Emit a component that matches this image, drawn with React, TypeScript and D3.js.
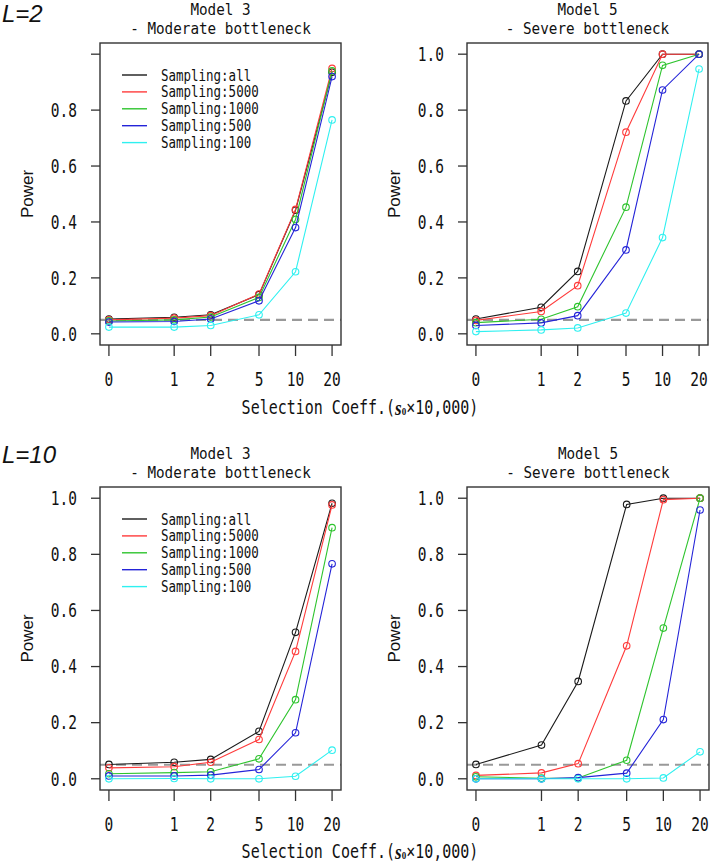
import React from "react";
import * as d3 from "d3";

// selection coefficients (x10,000) on the x axis
const sCoeff = [0, 1, 2, 5, 10, 20];
const yTicks = [0, 0.2, 0.4, 0.6, 0.8, 1.0];
const samplingLabels = [
  "Sampling:all",
  "Sampling:5000",
  "Sampling:1000",
  "Sampling:500",
  "Sampling:100",
];
const samplingColors = ["#1a1a1a", "#ff3b3b", "#2ec42e", "#2424d8", "#2ff0f0"];

// rows follow samplingLabels, columns follow sCoeff
const model3L2 = [
  [0.053, 0.059, 0.068, 0.14, 0.442, 0.935],
  [0.05, 0.056, 0.065, 0.142, 0.445, 0.949],
  [0.046, 0.05, 0.06, 0.13, 0.409, 0.94],
  [0.042, 0.044, 0.053, 0.118, 0.38, 0.92],
  [0.024, 0.024, 0.03, 0.068, 0.222, 0.765],
];
const model5L2 = [
  [0.053, 0.095, 0.223, 0.833, 1.0, 1.0],
  [0.048, 0.08, 0.172, 0.721, 1.0, 1.0],
  [0.04, 0.052, 0.097, 0.453, 0.96, 1.0],
  [0.03, 0.039, 0.065, 0.3, 0.872, 1.0],
  [0.008, 0.014, 0.021, 0.074, 0.344, 0.947],
];
const model3L10 = [
  [0.051, 0.059, 0.069, 0.169, 0.522, 0.982],
  [0.039, 0.043, 0.059, 0.14, 0.454, 0.976],
  [0.018, 0.022, 0.025, 0.071, 0.282, 0.895],
  [0.01, 0.01, 0.013, 0.033, 0.164, 0.766],
  [0.0, 0.001, 0.0, 0.0, 0.009, 0.102],
];
const model5L10 = [
  [0.051, 0.12, 0.347, 0.978, 1.0, 1.0],
  [0.012, 0.021, 0.054, 0.474, 0.995, 1.0],
  [0.007, 0.002, 0.003, 0.066, 0.537, 1.0],
  [0.0, 0.0, 0.004, 0.02, 0.211, 0.958],
  [0.0, 0.0, 0.0, 0.0, 0.003, 0.096],
];
const alphaLevel = 0.05;

const MONO = "'DejaVu Sans Mono', 'Liberation Mono', monospace";
const SANS = "'Liberation Sans', Arial, sans-serif";

// where 0 sits on the log axis
const ZERO_POS = 0.29;

type Box = { x0: number; x1: number; y0: number; y1: number };

// monospace text stretched vertically, centred on (x, y)
function Mono({ x, y, size, anchor = "middle", stretch = 1.25, children }: any) {
  return (
    <text
      transform={`translate(${x},${y}) scale(1,${stretch})`}
      fontFamily={MONO}
      fontSize={size}
      textAnchor={anchor}
      dominantBaseline="central"
      fill="#111"
    >
      {children}
    </text>
  );
}

function Panel({
  box,
  data,
  title,
  subtitle,
  legend,
  hideTopLabel,
}: {
  box: Box;
  data: number[][];
  title: string;
  subtitle: string;
  legend: boolean;
  hideTopLabel?: boolean;
}) {
  const lx0 = Math.log10(ZERO_POS);
  const lx1 = Math.log10(20);
  const pad = (lx1 - lx0) * 0.04;
  const x = d3
    .scaleLog()
    .domain([Math.pow(10, lx0 - pad), Math.pow(10, lx1 + pad)])
    .range([box.x0, box.x1]);
  const xv = (s: number) => x(s === 0 ? ZERO_POS : s);
  const y = d3.scaleLinear().domain([-0.04, 1.04]).range([box.y1, box.y0]);

  const line = d3
    .line<number>()
    .x((_, i) => xv(sCoeff[i]))
    .y((d) => y(d));

  const cx = (box.x0 + box.x1) / 2;
  const cy = (box.y0 + box.y1) / 2;

  return (
    <g>
      <Mono x={cx} y={box.y0 - 33} size={14.3} stretch={1.15}>
        {title}
      </Mono>
      <Mono x={cx} y={box.y0 - 14.5} size={14.3} stretch={1.15}>
        {subtitle}
      </Mono>

      {/* significance level */}
      <line
        x1={box.x0}
        x2={box.x1}
        y1={y(alphaLevel)}
        y2={y(alphaLevel)}
        stroke="#999"
        strokeWidth={2.2}
        strokeDasharray="10,6"
      />

      {data.map((row, si) => (
        <g key={si}>
          <path
            d={line(row) || ""}
            fill="none"
            stroke={samplingColors[si]}
            strokeWidth={1.1}
          />
          {row.map((v, i) => (
            <circle
              key={i}
              cx={xv(sCoeff[i])}
              cy={y(v)}
              r={3.3}
              fill="none"
              stroke={samplingColors[si]}
              strokeWidth={1.1}
            />
          ))}
        </g>
      ))}

      <rect
        x={box.x0}
        y={box.y0}
        width={box.x1 - box.x0}
        height={box.y1 - box.y0}
        fill="none"
        stroke="#333"
        strokeWidth={1.4}
      />

      {/* y axis */}
      {yTicks.map((t) => (
        <g key={t}>
          <line x1={box.x0 - 9} x2={box.x0} y1={y(t)} y2={y(t)} stroke="#333" strokeWidth={1.3} />
          {!(hideTopLabel && t === 1) && (
            <Mono x={box.x0 - 23} y={y(t)} size={14.5} anchor="end" stretch={1.3}>
              {d3.format(".1f")(t)}
            </Mono>
          )}
        </g>
      ))}
      <text
        transform={`translate(${box.x0 - 73},${cy}) rotate(-90)`}
        fontFamily={SANS}
        fontSize={17}
        textAnchor="middle"
        dominantBaseline="central"
        fill="#111"
      >
        Power
      </text>

      {/* x axis */}
      {sCoeff.map((s) => (
        <g key={s}>
          <line x1={xv(s)} x2={xv(s)} y1={box.y1} y2={box.y1 + 11} stroke="#333" strokeWidth={1.3} />
          <Mono x={xv(s)} y={box.y1 + 34} size={14.5} stretch={1.3}>
            {String(s)}
          </Mono>
        </g>
      ))}

      {legend &&
        samplingLabels.map((lab, i) => {
          const ly = box.y0 + 32 + i * 16.9;
          return (
            <g key={lab}>
              <line x1={box.x0 + 22} x2={box.x0 + 47} y1={ly} y2={ly} stroke={samplingColors[i]} strokeWidth={1.4} />
              <Mono x={box.x0 + 61} y={ly} size={12.5} anchor="start">
                {lab}
              </Mono>
            </g>
          );
        })}
    </g>
  );
}

function XTitle({ y }: { y: number }) {
  return (
    <text
      transform={`translate(360,${y}) scale(1,1.25)`}
      fontFamily={MONO}
      fontSize={15}
      textAnchor="middle"
      dominantBaseline="central"
      fill="#111"
    >
      Selection Coeff.(
      <tspan fontFamily="'Liberation Serif', serif" fontWeight="bold" fontStyle="italic" fontSize={17}>
        s
      </tspan>
      <tspan fontFamily="'Liberation Serif', serif" fontWeight="bold" fontSize={9} dy={3}>
        0
      </tspan>
      <tspan dy={-3}>×10,000)</tspan>
    </text>
  );
}

export default function App() {
  return (
    <svg
      width={712}
      height={862}
      style={{ position: "absolute", left: 0, top: 0, background: "#fff" }}
    >
      <rect width={712} height={862} fill="#fff" />
      <text x={2} y={22} fontFamily={SANS} fontStyle="italic" fontSize={24} fill="#111">
        L=2
      </text>
      <text x={2} y={463} fontFamily={SANS} fontStyle="italic" fontSize={24} fill="#111">
        L=10
      </text>

      <Panel
        box={{ x0: 100, x1: 341, y0: 43, y1: 345 }}
        data={model3L2}
        title="Model 3"
        subtitle="- Moderate bottleneck"
        legend
        hideTopLabel
      />
      <Panel
        box={{ x0: 467, x1: 708, y0: 43, y1: 345 }}
        data={model5L2}
        title="Model 5"
        subtitle="- Severe bottleneck"
        legend={false}
      />
      <XTitle y={407} />

      <Panel
        box={{ x0: 100, x1: 341, y0: 487, y1: 790 }}
        data={model3L10}
        title="Model 3"
        subtitle="- Moderate bottleneck"
        legend
      />
      <Panel
        box={{ x0: 467, x1: 709, y0: 487, y1: 790 }}
        data={model5L10}
        title="Model 5"
        subtitle="- Severe bottleneck"
        legend={false}
      />
      <XTitle y={851} />
    </svg>
  );
}
